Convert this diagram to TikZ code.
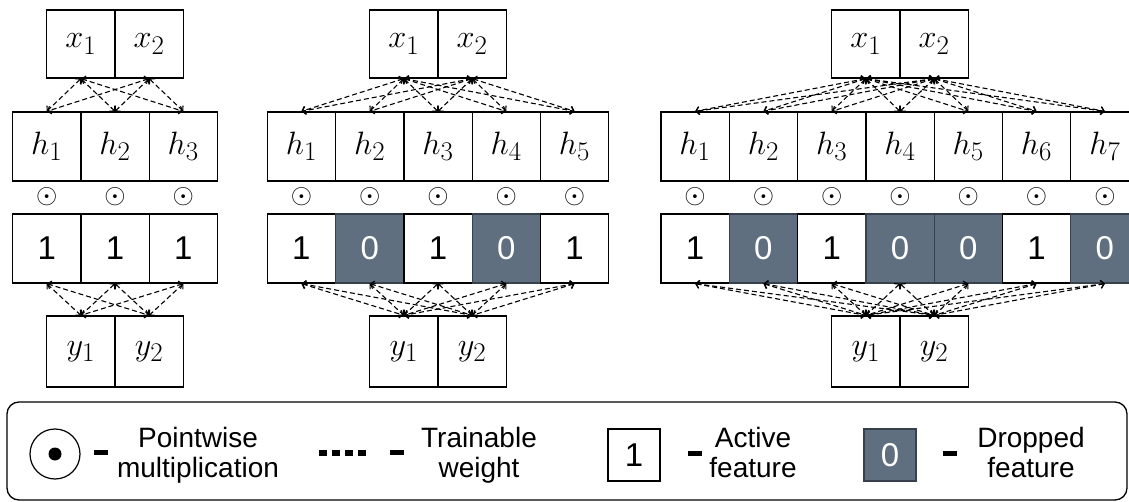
\RequirePackage{fix-cm}
\documentclass[tikz,border=0pt]{standalone}
\usepackage{graphicx}
\usepackage{fontspec}
\newfontfamily\arial{Liberation Sans}
\usetikzlibrary{arrows.meta}
\definecolor{drop}{RGB}{95,111,128}
\definecolor{dropline}{RGB}{55,65,78}
\newcommand\mth[1]{\scalebox{1.3}{$#1$}}
\tikzset{
  cell/.style={draw=black, line width=1.3pt, minimum width=68.3pt, minimum height=68pt,
    inner sep=0pt, font=\fontsize{24.88}{24.88}\selectfont},
  hcell/.style={cell, minimum height=69pt},
  ycell/.style={cell, minimum height=71pt},
  m1/.style={cell, minimum height=69pt, font=\arial\fontsize{33}{33}\selectfont},
  m0/.style={m1, fill=drop, draw=dropline, text=white},
  odot/.style={inner sep=0pt, font=\fontsize{24.88}{24.88}\selectfont},
  conn/.style={line width=1.1pt, dash pattern=on 5pt off 3pt,
    {Straight Barb[length=3.5pt,width=8pt,line width=1.1pt]}-{Straight Barb[length=3.5pt,width=8pt,line width=1.1pt]}},
  legtext/.style={font=\arial\fontsize{28}{30}\selectfont, align=center, inner sep=0pt, anchor=north},
  bar/.style={fill=black, minimum width=14pt, minimum height=5pt, inner sep=0pt},
  legbox/.style={line width=1.2pt, minimum width=52pt, minimum height=52pt, inner sep=0pt,
    font=\arial\fontsize{33}{33}\selectfont},
}
\begin{document}
\begin{tikzpicture}[x=1pt,y=-1pt]
\useasboundingbox (0,0) rectangle (1129,502);
\clip (0,0) rectangle (1129,502);
\def\w{68.3}
\foreach \p/\cx/\n/\mask in {1/115/3/{1,1,1}, 2/438/5/{1,0,1,0,1}, 3/900/7/{1,0,1,0,0,1,0}}{
  \node[cell]  (p\p x1) at (\cx-\w/2,44) {\mth{x_1}};
  \node[cell]  (p\p x2) at (\cx+\w/2,44) {\mth{x_2}};
  \node[ycell] (p\p y1) at (\cx-\w/2,351.5) {\mth{y_1}};
  \node[ycell] (p\p y2) at (\cx+\w/2,351.5) {\mth{y_2}};
  \foreach \m [count=\i] in \mask {
    \pgfmathsetmacro\hx{\cx+(\i-(\n+1)/2)*\w}
    \node[hcell] (p\p h\i) at (\hx,146.5) {\mth{h_{\i}}};
    \node[odot]  (p\p o\i) at (\hx,197) {\scalebox{1.1}{$\odot$}};
    \node[m\m]   (p\p m\i) at (\hx,248.5) {\m};
  }
  \foreach \i in {1,...,\n}{
    \foreach \j in {1,2}{
      \draw[conn] (p\p x\j.south) -- (p\p h\i.north);
      \draw[conn] (p\p m\i.south) -- (p\p y\j.north);
    }
  }
}
% legend
\node[draw, line width=1.3pt, rounded corners=12pt, minimum width=1120pt, minimum height=98pt, inner sep=0pt]
  (legend) at (567,451) {};
\node[circle, draw, line width=1.2pt, minimum size=50pt, inner sep=0pt] (lodot) at (55,454) {};
\fill (lodot.center) circle (6.5pt);
\node[bar] (bar1) at (100.5,452.5) {};
\node[legtext] (t1) at (198,427) {Pointwise\\multiplication};
\coordinate (dotsA) at (319,453);
\coordinate (dotsB) at (366,453);
\draw[line width=6pt, dash pattern=on 8pt off 5pt] (dotsA) -- (dotsB);
\node[bar] (bar2) at (396.5,452.5) {};
\node[legtext] (t2) at (479,427) {Trainable\\weight};
\node[legbox, draw=black] (lone) at (634,455) {1};
\node[bar] (bar3) at (695,453) {};
\node[legtext] (t3) at (753,427) {Active\\feature};
\node[legbox, fill=drop, draw=dropline, text=white] (lzero) at (890,455) {0};
\node[bar] (bar4) at (950,453) {};
\node[legtext] (t4) at (1031,427) {Dropped\\feature};
\end{tikzpicture}
\end{document}
